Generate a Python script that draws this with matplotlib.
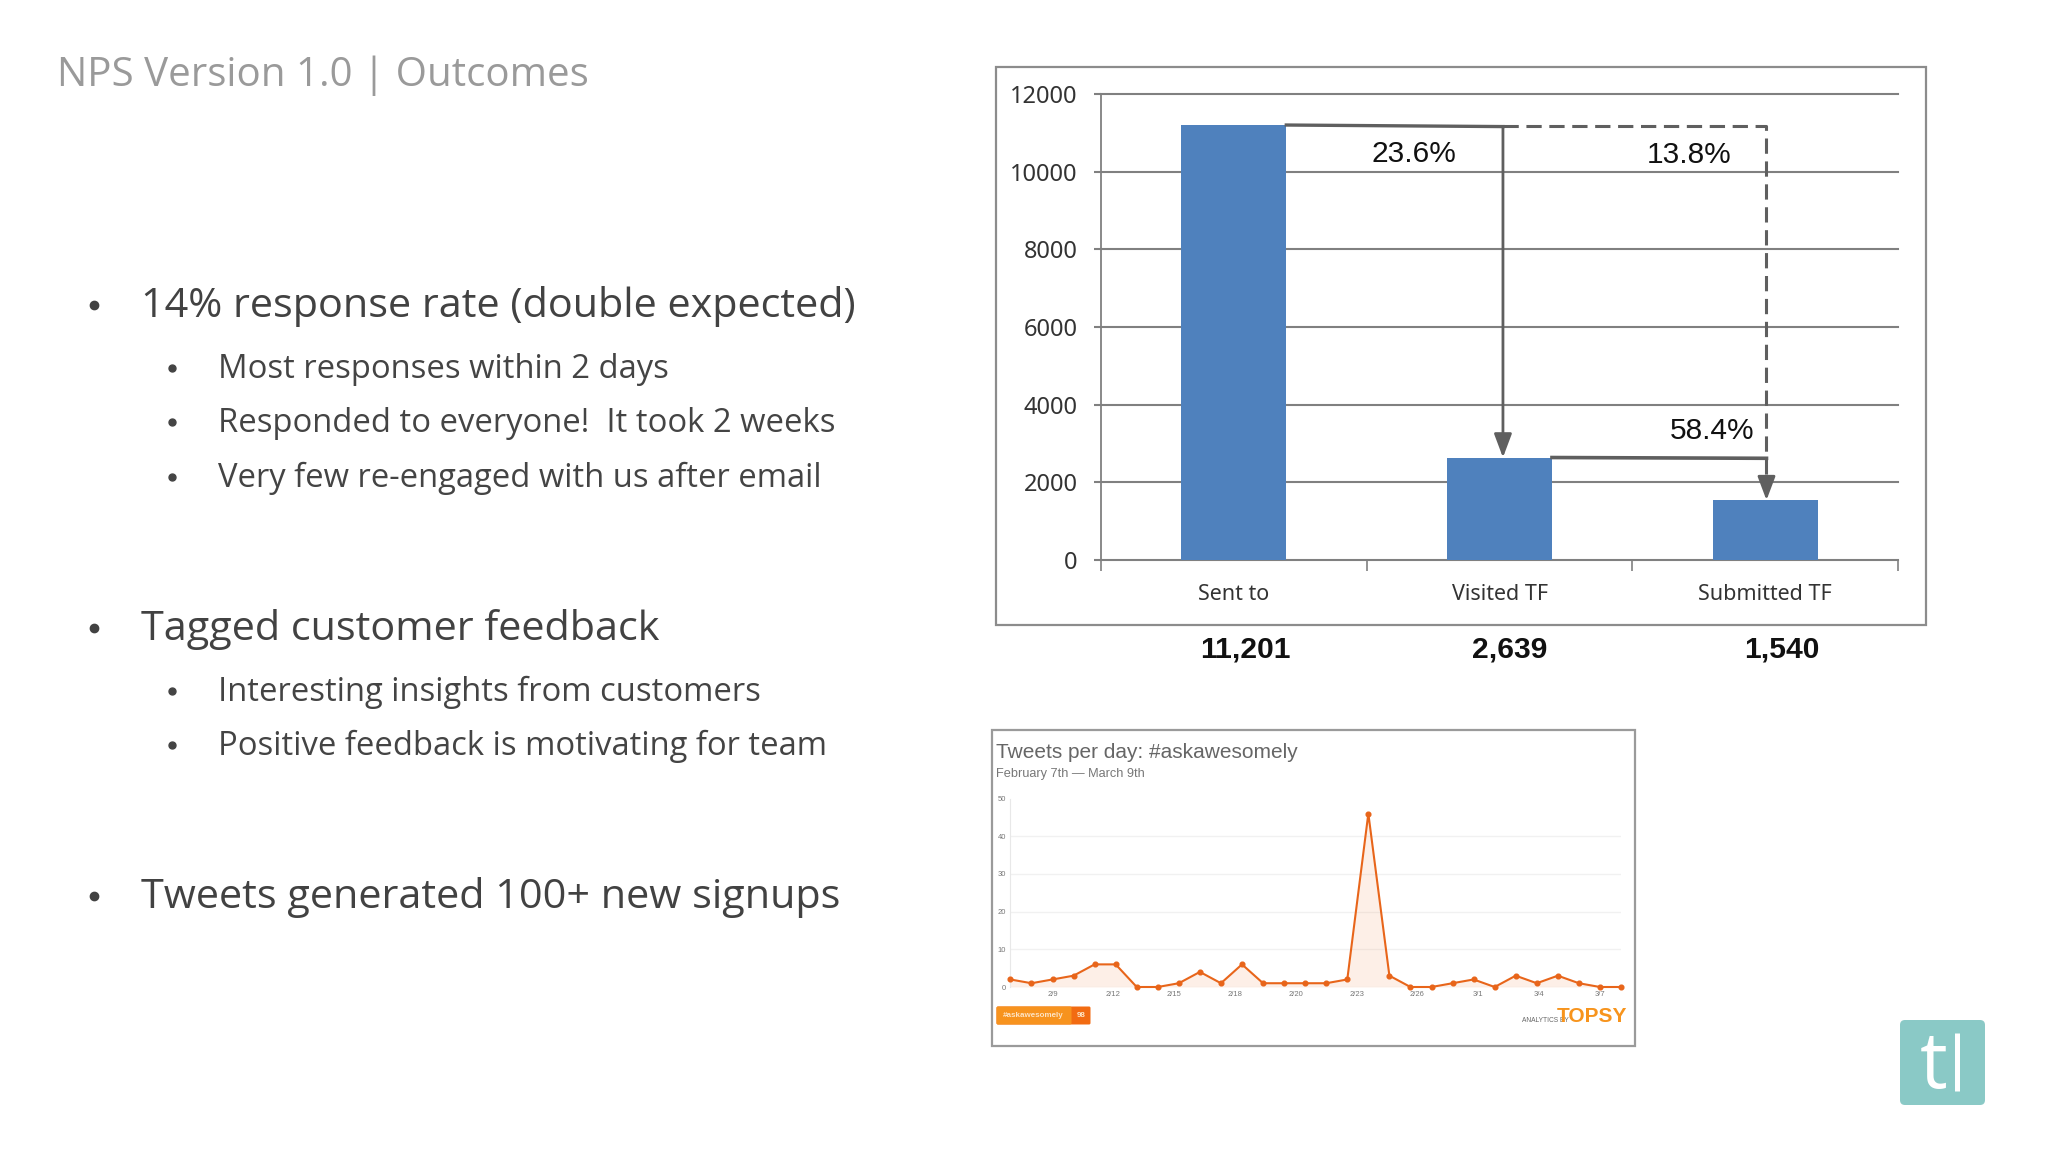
import matplotlib
matplotlib.use("Agg")
import matplotlib.pyplot as plt
import numpy as np
from matplotlib.patches import FancyBboxPatch, Rectangle

W, H = 2048, 1152

# funnel chart
stages = ["Sent to", "Visited TF", "Submitted TF"]
counts = [11201, 2639, 1540]
count_labels = ["11,201", "2,639", "1,540"]
rate_labels = ["23.6%", "13.8%", "58.4%"]
funnel_ticks = [0, 2000, 4000, 6000, 8000, 10000, 12000]

# tweets per day
tweets = [2, 1, 2, 3, 6, 6, 0, 0, 1, 4, 1, 6, 1, 1, 1, 1, 2, 46, 3, 0, 0, 1, 2, 0, 3, 1, 3, 1, 0, 0]
tweet_dates = ["2/9", "2/12", "2/15", "2/18", "2/20", "2/23", "2/26", "3/1", "3/4", "3/7"]
tweet_ticks = [0, 10, 20, 30, 40, 50]

title = "NPS Version 1.0 | Outcomes"
headings = ["14% response rate (double expected)", "Tagged customer feedback", "Tweets generated 100+ new signups"]
sub_points = [
    "Most responses within 2 days",
    "Responded to everyone!  It took 2 weeks",
    "Very few re-engaged with us after email",
    "Interesting insights from customers",
    "Positive feedback is motivating for team",
]

SLIDE_FONT = "Open Sans"
CHART_FONT = "Liberation Sans"
LABEL_FONT = "Noto Sans"


def px_axes(left, top, right, bottom):
    return fig.add_axes([left / W, 1 - bottom / H, (right - left) / W, (bottom - top) / H])


fig = plt.figure(figsize=(W / 100, H / 100), dpi=100, facecolor="white")

# whole slide in pixel coordinates
page = fig.add_axes([0, 0, 1, 1])
page.set_xlim(0, W)
page.set_ylim(H, 0)
page.axis("off")

page.text(57, 86, title, fontsize=29, color="#9a9a9a", family=SLIDE_FONT, va="baseline")

heading_y = [317, 640, 908]
for txt, y in zip(headings, heading_y):
    page.text(141, y, txt, fontsize=29.8, color="#424242", family=SLIDE_FONT, va="baseline")
    page.plot([94], [y - 12], "o", ms=6, color="#424242")

sub_y = [378, 432, 487, 701, 755]
for txt, y in zip(sub_points, sub_y):
    page.text(218, y, txt, fontsize=23.6, color="#444444", family=SLIDE_FONT, va="baseline")
    page.plot([172], [y - 10], "o", ms=5, color="#444444")

# chart frames
page.add_patch(Rectangle((996, 67), 930, 558, fc="white", ec="#8c8c8c", lw=1.6))
page.add_patch(Rectangle((992, 730), 643, 316, fc="white", ec="#9a9a9a", lw=1.6))

# logo
page.add_patch(FancyBboxPatch((1903, 1023), 79, 79, boxstyle="round,pad=3,rounding_size=5", fc="#8ac9c6", ec="none"))
page.text(1934, 1088, "t", fontsize=56, color="white", family="Open Sans", ha="center", va="baseline")
page.plot([1957, 1957], [1033, 1091], color="white", lw=3.6, solid_capstyle="butt")

# bar chart
ax = px_axes(1101, 94, 1898, 560)
ax.patch.set_alpha(0)
x = np.arange(len(stages))
bar_w = 0.395
ax.bar(x, counts, width=bar_w, color="#4f81bd", zorder=3)
ax.set_xlim(-0.5, 2.5)
ax.set_ylim(0, 12000)
ax.set_yticks(funnel_ticks)
ax.set_yticklabels(funnel_ticks, fontsize=17, family=LABEL_FONT, color="#333333")
ax.set_xticks(x)
ax.set_xticklabels(stages, fontsize=15.5, family=LABEL_FONT, color="#333333")
ax.tick_params(axis="x", length=0, pad=17.5)
ax.tick_params(axis="y", length=5, width=1.5, color="#808080", pad=12)
ax.set_xticks([-0.5, 0.5, 1.5, 2.5], minor=True)
ax.tick_params(axis="x", which="minor", length=8, width=1.2, color="#808080")
ax.grid(axis="y", color="#808080", lw=1.5, zorder=1, clip_on=False)
for s in ["top", "right"]:
    ax.spines[s].set_visible(False)
for s in ["left", "bottom"]:
    ax.spines[s].set_color("#808080")
    ax.spines[s].set_linewidth(1.3)

arrow_col = "#5f5f5f"
head = "-|>,head_length=1.44,head_width=0.54"
visit_x = 1.013
submit_x = 2.005
ax.plot([bar_w / 2, visit_x], [counts[0], counts[0] - 40], color=arrow_col, lw=2.4, zorder=4)
ax.annotate("", xy=(visit_x, counts[1]), xytext=(visit_x, counts[0] - 40), zorder=4,
            arrowprops=dict(arrowstyle=head, color=arrow_col, lw=2, shrinkA=0, shrinkB=0))
ax.plot([visit_x, submit_x, submit_x], [counts[0] - 20, counts[0] - 20, counts[2] + 450],
        color=arrow_col, lw=2.2, ls=(0, (5, 2.5)), zorder=4)
ax.plot([1 + bar_w / 2, submit_x], [counts[1], counts[1] - 20], color=arrow_col, lw=2.6, zorder=4)
ax.annotate("", xy=(submit_x, counts[2]), xytext=(submit_x, counts[2] + 600), zorder=4,
            arrowprops=dict(arrowstyle=head, color=arrow_col, lw=2, shrinkA=0, shrinkB=0))

page.text(1414, 154, rate_labels[0], fontsize=21.5, family=CHART_FONT, color="#111111", ha="center", va="center")
page.text(1689, 155, rate_labels[1], fontsize=21.5, family=CHART_FONT, color="#111111", ha="center", va="center")
page.text(1712, 431, rate_labels[2], fontsize=21.5, family=CHART_FONT, color="#111111", ha="center", va="center")
for txt, xp in zip(count_labels, [1245, 1510, 1782]):
    page.text(xp, 649, txt, fontsize=21.6, fontweight="bold", family=CHART_FONT, color="#111111", ha="center", va="center")

# tweets chart
days = np.arange(len(tweets))
ax2 = px_axes(1010.4, 798.5, 1621, 987)
ax2.patch.set_alpha(0)
ax2.fill_between(days, tweets, color="#f26a1b", alpha=0.1, lw=0, zorder=2)
ax2.plot(days, tweets, "-o", color="#e8651a", lw=1.5, ms=3.4, zorder=3, clip_on=False)
ax2.set_xlim(0, len(tweets) - 1)
ax2.set_ylim(0, 50)
ax2.set_yticks(tweet_ticks)
ax2.set_yticklabels(tweet_ticks, fontsize=5.5, family=CHART_FONT, color="#777777")
ax2.set_xticks(np.linspace(2, 28, len(tweet_dates)))
ax2.set_xticklabels(tweet_dates, fontsize=5.5, family=CHART_FONT, color="#777777")
ax2.tick_params(length=0, pad=3)
ax2.grid(axis="y", color="#f1f1f1", lw=1, zorder=1)
for s in ["top", "right", "bottom"]:
    ax2.spines[s].set_visible(False)
ax2.spines["left"].set_color("#e8e8e8")
for line in ax2.get_ygridlines()[-1:]:
    line.set_visible(False)

page.text(996.5, 758, "Tweets per day: #askawesomely", fontsize=15, family=CHART_FONT, color="#666666", va="baseline")
page.text(996.5, 777, "February 7th \u2014 March 9th", fontsize=9.2, family=CHART_FONT, color="#777777", va="baseline")

page.add_patch(FancyBboxPatch((997, 1007), 93, 17, boxstyle="round,pad=0.5,rounding_size=1.5", fc="#f26b12", ec="none"))
page.add_patch(FancyBboxPatch((997, 1007), 74, 17, boxstyle="round,pad=0.5,rounding_size=1.5", fc="#f7931e", ec="none"))
page.text(1003, 1015.5, "#askawesomely", fontsize=5.8, fontweight="bold", family=CHART_FONT, color="#fde3c4", va="center")
page.text(1081, 1015.5, "98", fontsize=5.8, fontweight="bold", family=CHART_FONT, color="#fde3c4", ha="center", va="center")
page.text(1569, 1022, "ANALYTICS BY", fontsize=4.8, family=CHART_FONT, color="#666666", ha="right", va="baseline")
page.text(1627, 1022, "TOPSY", fontsize=15, fontweight="bold", family=["Liberation Sans Narrow", "Liberation Sans"],
          color="#f7941d", ha="right", va="baseline")

fig.savefig("out.png", dpi=100, facecolor="white")
